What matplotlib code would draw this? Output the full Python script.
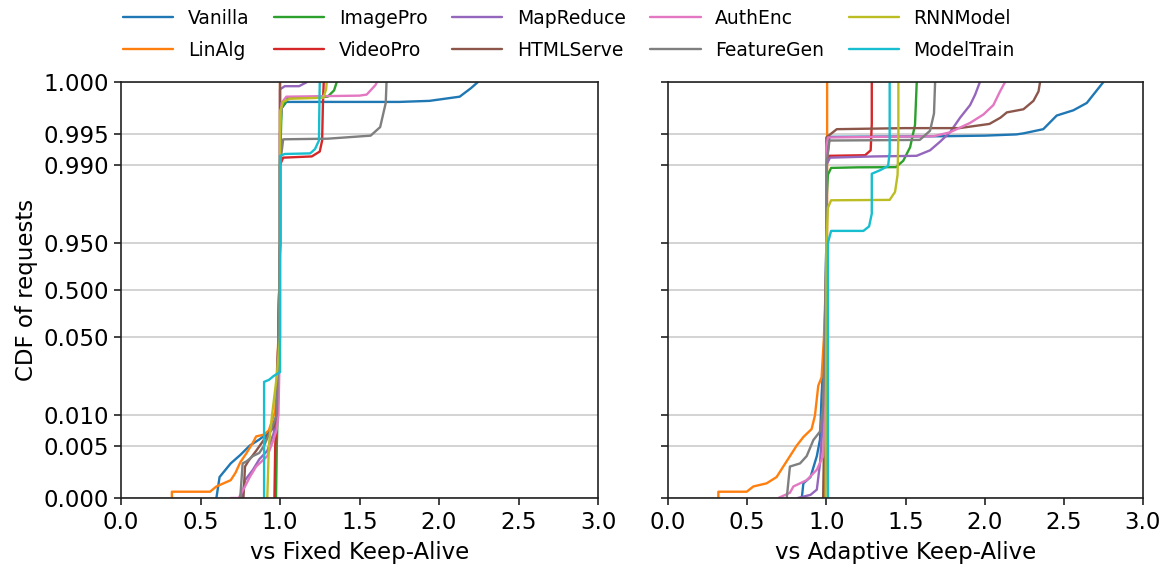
import numpy as np
import matplotlib
matplotlib.use("Agg")
import matplotlib.pyplot as plt

# ---------------- data ----------------
series_names = ["Vanilla", "LinAlg", "ImagePro", "VideoPro", "MapReduce",
                "HTMLServe", "AuthEnc", "FeatureGen", "RNNModel", "ModelTrain"]
series_colors = ["#1f77b4", "#ff7f0e", "#2ca02c", "#d62728", "#9467bd",
                 "#8c564b", "#e377c2", "#7f7f7f", "#bcbd22", "#17becf"]

y_ticks = [0.0, 0.005, 0.01, 0.05, 0.5, 0.95, 0.99, 0.995, 1.0]
x_ticks = [0.0, 0.5, 1.0, 1.5, 2.0, 2.5, 3.0]

# ----- vs Fixed Keep-Alive -----
vanilla_fixed_x = [0.60, 0.62, 0.69, 0.75, 0.81, 0.87, 0.92, 0.96, 0.98, 0.99, 1.00, 1.00, 1.01, 1.04, 1.75, 1.94, 2.13, 2.20, 2.245]
vanilla_fixed_y = [0.0, 0.002, 0.0033, 0.0041, 0.005, 0.006, 0.007, 0.0085, 0.01, 0.05, 0.95, 0.995, 0.9975, 0.9981, 0.9981, 0.9982, 0.9986, 0.9994, 1.0]

linalg_fixed_x = [0.32, 0.32, 0.56, 0.60, 0.69, 0.72, 0.75, 0.79, 0.83, 0.85, 0.90, 0.93, 0.97, 0.99, 1.0, 1.0]
linalg_fixed_y = [0.0, 0.0006, 0.0006, 0.0011, 0.0017, 0.0024, 0.0034, 0.0043, 0.0055, 0.0065, 0.0068, 0.0075, 0.012, 0.05, 0.95, 1.0]

imagepro_fixed_x = [0.975, 0.98, 0.985, 0.995, 1.0, 1.0, 1.01, 1.05, 1.30, 1.34, 1.357]
imagepro_fixed_y = [0.0, 0.005, 0.01, 0.05, 0.95, 0.99, 0.9975, 0.9985, 0.9986, 0.9992, 1.0]

videopro_fixed_x = [0.965, 0.97, 0.98, 0.99, 1.0, 1.0, 1.02, 1.20, 1.25, 1.265, 1.27, 1.275]
videopro_fixed_y = [0.0, 0.005, 0.01, 0.05, 0.95, 0.99, 0.9912, 0.9914, 0.9922, 0.994, 0.998, 1.0]

mapreduce_fixed_x = [0.76, 0.78, 0.83, 0.87, 0.92, 0.96, 0.98, 0.99, 1.0, 1.0, 1.0, 1.03, 1.12, 1.17]
mapreduce_fixed_y = [0.0, 0.0017, 0.0027, 0.0037, 0.0045, 0.007, 0.01, 0.05, 0.95, 0.99, 0.9993, 0.9996, 0.9996, 1.0]

htmlserve_fixed_x = [0.77, 0.78, 0.80, 0.85, 0.90, 0.96, 0.98, 0.99, 1.0, 1.0]
htmlserve_fixed_y = [0.0, 0.003, 0.0035, 0.0045, 0.006, 0.008, 0.01, 0.05, 0.95, 1.0]

authenc_fixed_x = [0.69, 0.74, 0.78, 0.81, 0.85, 0.92, 0.96, 0.98, 0.99, 1.0, 1.0, 1.0, 1.01, 1.04, 1.50, 1.545, 1.60, 1.61]
authenc_fixed_y = [0.0, 0.0, 0.0011, 0.002, 0.003, 0.004, 0.006, 0.0077, 0.01, 0.05, 0.95, 0.995, 0.998, 0.9986, 0.9987, 0.9988, 0.9997, 1.0]

featuregen_fixed_x = [0.75, 0.765, 0.79, 0.83, 0.87, 0.90, 0.95, 0.98, 0.99, 1.0, 1.0, 1.02, 1.30, 1.57, 1.63, 1.665, 1.67]
featuregen_fixed_y = [0.0, 0.0033, 0.0035, 0.004, 0.0043, 0.005, 0.008, 0.01, 0.05, 0.95, 0.99, 0.9942, 0.9943, 0.9948, 0.9957, 0.998, 1.0]

rnnmodel_fixed_x = [0.92, 0.93, 0.95, 0.98, 1.0, 1.0, 1.0, 1.0, 1.02, 1.06, 1.273, 1.29, 1.294]
rnnmodel_fixed_y = [0.0, 0.005, 0.01, 0.03, 0.05, 0.95, 0.99, 0.9972, 0.9981, 0.9984, 0.9985, 0.9993, 1.0]

modeltrain_fixed_x = [0.90, 0.90, 0.93, 0.96, 1.0, 1.0, 1.0, 1.03, 1.19, 1.22, 1.245, 1.247, 1.25]
modeltrain_fixed_y = [0.0, 0.027, 0.028, 0.030, 0.032, 0.95, 0.9915, 0.9918, 0.9919, 0.9926, 0.994, 0.997, 1.0]

# ----- vs Adaptive Keep-Alive -----
vanilla_adapt_x = [0.845, 0.855, 0.90, 0.94, 0.96, 0.97, 0.99, 1.0, 1.0, 1.02, 1.72, 2.0, 2.2, 2.245, 2.37, 2.455, 2.56, 2.645, 2.75]
vanilla_adapt_y = [0.0, 0.0014, 0.002, 0.004, 0.006, 0.02, 0.05, 0.95, 0.99, 0.9946, 0.9947, 0.9948, 0.995, 0.9951, 0.9955, 0.9968, 0.9973, 0.998, 1.0]

linalg_adapt_x = [0.318, 0.318, 0.497, 0.539, 0.623, 0.686, 0.728, 0.813, 0.855, 0.907, 0.928, 0.949, 0.97, 0.985, 1.005, 1.005]
linalg_adapt_y = [0.0, 0.0006, 0.0006, 0.0011, 0.0014, 0.002, 0.003, 0.005, 0.0064, 0.0077, 0.0099, 0.025, 0.0293, 0.05, 0.95, 1.0]

imagepro_adapt_x = [0.99, 0.995, 1.0, 1.0, 1.0, 1.01, 1.03, 1.20, 1.44, 1.486, 1.529, 1.56, 1.571]
imagepro_adapt_y = [0.0, 0.01, 0.05, 0.95, 0.97, 0.985, 0.9885, 0.9888, 0.9889, 0.9907, 0.9929, 0.9959, 1.0]

videopro_adapt_x = [0.99, 1.0, 1.0, 1.0, 1.02, 1.245, 1.28, 1.287, 1.287]
videopro_adapt_y = [0.0, 0.01, 0.95, 0.99, 0.9915, 0.9916, 0.9924, 0.996, 1.0]

mapreduce_adapt_x = [0.82, 0.90, 0.94, 0.96, 0.98, 0.995, 1.0, 1.0, 1.023, 1.30, 1.57, 1.655, 1.718, 1.781, 1.845, 1.908, 1.94, 1.97]
mapreduce_adapt_y = [0.0, 0.0003, 0.0008, 0.0033, 0.01, 0.05, 0.95, 0.99, 0.9912, 0.9914, 0.9915, 0.9924, 0.9938, 0.9952, 0.9966, 0.9978, 0.9988, 1.0]

htmlserve_adapt_x = [0.98, 0.985, 0.99, 1.0, 1.0, 1.0, 1.066, 1.50, 1.84, 2.03, 2.10, 2.14, 2.245, 2.308, 2.34, 2.35]
htmlserve_adapt_y = [0.0, 0.005, 0.01, 0.05, 0.95, 0.9945, 0.9955, 0.9956, 0.9956, 0.996, 0.9966, 0.9971, 0.9974, 0.9982, 0.9991, 1.0]

authenc_adapt_x = [0.697, 0.77, 0.792, 0.876, 0.94, 0.98, 0.99, 1.0, 1.0, 1.0, 1.01, 1.676, 1.781, 1.908, 1.992, 2.055, 2.097, 2.129]
authenc_adapt_y = [0.0, 0.0005, 0.0011, 0.0017, 0.0027, 0.004, 0.01, 0.05, 0.95, 0.993, 0.9945, 0.9947, 0.9952, 0.9961, 0.9969, 0.9978, 0.9991, 1.0]

featuregen_adapt_x = [0.75, 0.77, 0.834, 0.876, 0.918, 0.96, 0.98, 0.99, 1.0, 1.0, 1.02, 1.59, 1.655, 1.68, 1.687]
featuregen_adapt_y = [0.0, 0.003, 0.0033, 0.004, 0.0059, 0.0073, 0.0148, 0.05, 0.95, 0.99, 0.9940, 0.9941, 0.99535, 0.997, 1.0]

rnnmodel_adapt_x = [0.995, 1.0, 1.0, 1.01, 1.03, 1.40, 1.434, 1.45, 1.455, 1.455]
rnnmodel_adapt_y = [0.0, 0.05, 0.95, 0.968, 0.9719, 0.9721, 0.9762, 0.985, 0.995, 1.0]

modeltrain_adapt_x = [1.01, 1.01, 1.03, 1.234, 1.27, 1.287, 1.287, 1.339, 1.39, 1.40, 1.40]
modeltrain_adapt_y = [0.0, 0.95, 0.9562, 0.9562, 0.9585, 0.965, 0.9855, 0.9873, 0.9895, 0.992, 1.0]

fixed_x = [vanilla_fixed_x, linalg_fixed_x, imagepro_fixed_x, videopro_fixed_x, mapreduce_fixed_x,
           htmlserve_fixed_x, authenc_fixed_x, featuregen_fixed_x, rnnmodel_fixed_x, modeltrain_fixed_x]
fixed_y = [vanilla_fixed_y, linalg_fixed_y, imagepro_fixed_y, videopro_fixed_y, mapreduce_fixed_y,
           htmlserve_fixed_y, authenc_fixed_y, featuregen_fixed_y, rnnmodel_fixed_y, modeltrain_fixed_y]
adapt_x = [vanilla_adapt_x, linalg_adapt_x, imagepro_adapt_x, videopro_adapt_x, mapreduce_adapt_x,
           htmlserve_adapt_x, authenc_adapt_x, featuregen_adapt_x, rnnmodel_adapt_x, modeltrain_adapt_x]
adapt_y = [vanilla_adapt_y, linalg_adapt_y, imagepro_adapt_y, videopro_adapt_y, mapreduce_adapt_y,
           htmlserve_adapt_y, authenc_adapt_y, featuregen_adapt_y, rnnmodel_adapt_y, modeltrain_adapt_y]

# ---------------- custom y scale (piecewise) ----------------
tick_pos = np.array([0.0, 0.126, 0.1995, 0.387, 0.5, 0.613, 0.8005, 0.874, 1.0])
tick_val = np.array(y_ticks)

def fwd(v):
    return np.interp(v, tick_val, tick_pos)

def inv(p):
    return np.interp(p, tick_pos, tick_val)

# ---------------- figure ----------------
W, H = 1165, 572
fig = plt.figure(figsize=(W / 100, H / 100), dpi=100)
ax1 = fig.add_axes([121 / W, 1 - 498 / H, 477 / W, 416 / H])
ax2 = fig.add_axes([668 / W, 1 - 498 / H, 475 / W, 416 / H], sharey=ax1)

FS = 16.5
for ax, xs, ys, xlabel in [(ax1, fixed_x, fixed_y, "vs Fixed Keep-Alive"),
                           (ax2, adapt_x, adapt_y, "vs Adaptive Keep-Alive")]:
    ax.set_yscale("function", functions=(fwd, inv))
    for name, col, x, y in zip(series_names, series_colors, xs, ys):
        ax.plot(x, y, color=col, lw=1.7, label=name, solid_capstyle="round")
    ax.set_xlim(0, 3)
    ax.set_ylim(0, 1)
    ax.set_xticks(x_ticks)
    ax.set_xticklabels([f"{t:.1f}" for t in x_ticks], fontsize=FS)
    ax.set_yticks(y_ticks)
    ax.grid(axis="y", color="#d3d3d3", lw=1.4)
    ax.set_axisbelow(True)
    ax.set_xlabel(xlabel, fontsize=FS, labelpad=5)
    for s in ax.spines.values():
        s.set_color("#222222")
        s.set_linewidth(1.2)
    ax.tick_params(axis="both", length=5, width=1.2, color="#222222")
    ax.tick_params(axis="x", pad=4.5)

ax1.set_yticklabels([f"{t:.3f}" for t in y_ticks], fontsize=FS)
ax1.set_ylabel("CDF of requests", fontsize=FS, labelpad=4)
ax2.tick_params(axis="y", labelleft=False)

handles, labels = ax1.get_legend_handles_labels()
fig.legend(handles, labels, loc="upper left", bbox_to_anchor=(123 / W, 1 - 9 / H),
           ncol=5, frameon=False, fontsize=13.5, handlelength=2.68, handletextpad=0.77,
           columnspacing=1.32, labelspacing=0.68, borderpad=0, borderaxespad=0)

fig.savefig("out.png", dpi=100)
